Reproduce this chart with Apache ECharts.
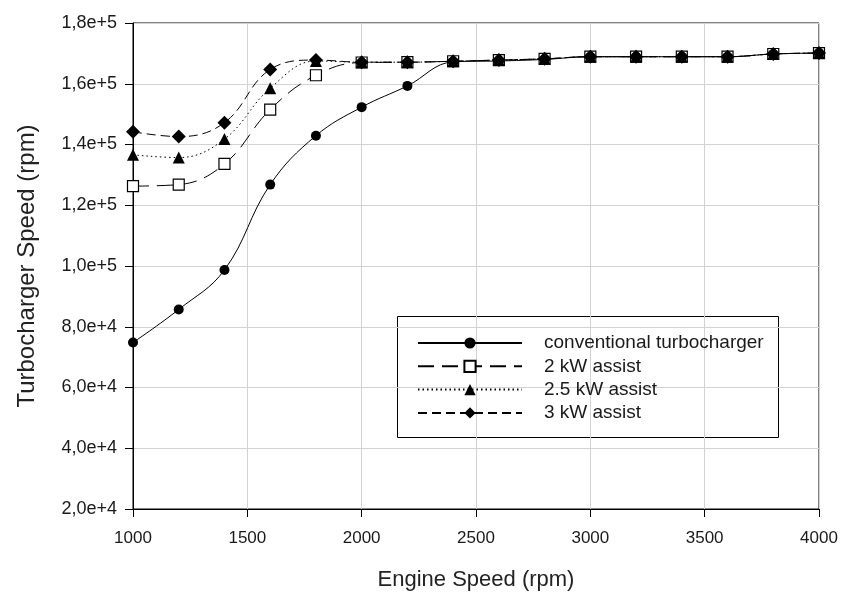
<!DOCTYPE html>
<html>
<head>
<meta charset="utf-8">
<script src="https://cdn.jsdelivr.net/npm/echarts@6/dist/echarts.min.js"></script>
<style>
html,body{margin:0;padding:0;background:#fff;}
#chart{width:841px;height:596px;}
</style>
</head>
<body>
<div id="chart"></div>
<script>
const engineSpeed = [1000,1200,1400,1600,1800,2000,2200,2400,2600,2800,3000,3200,3400,3600,3800,4000];
const conventional = [74800,85700,98700,126800,142900,152300,159300,167200,167500,168000,168900,168900,168900,168900,169800,170100];
const assist2kW    = [126300,126800,133600,151500,162800,167000,167100,167400,167800,168200,168900,168900,168900,168900,169800,170100];
const assist25kW   = [136600,135700,141800,158500,167500,167100,167100,167400,167800,168200,168900,168900,168900,168900,169800,170100];
const assist3kW    = [144200,142600,147200,164700,167800,167100,167100,167400,167800,168200,168900,168900,168900,168900,169800,170100];
const seriesNames = ['conventional turbocharger','2 kW assist','2.5 kW assist','3 kW assist'];
const xTitle = 'Engine Speed (rpm)';
const yTitle = 'Turbocharger Speed (rpm)';

function pairs(arr){ return engineSpeed.map((x,i)=>[x,arr[i]]); }
function fmtSci(v){
  const e = Math.floor(Math.log10(v) + 1e-9);
  const m = (v/Math.pow(10,e)).toFixed(1).replace('.',',');
  return m + 'e+' + e;
}
const FONT = '"Liberation Sans", Arial, sans-serif';
const chart = echarts.init(document.getElementById('chart'), null, {renderer:'canvas'});
const baseLine = {width:1, color:'#000'};
chart.setOption({
  animation:false,
  backgroundColor:'#fff',
  grid:{left:133,right:22,top:23,bottom:80,show:true,borderColor:'#000',borderWidth:1,backgroundColor:'transparent'},
  xAxis:{
    type:'value',min:1000,max:4000,interval:500,
    name:xTitle,nameLocation:'middle',nameGap:60,
    nameTextStyle:{fontFamily:FONT,fontSize:22,color:'#222'},
    axisLine:{show:true,lineStyle:{color:'#000',width:1}},
    axisTick:{show:true,length:8,inside:false,lineStyle:{color:'#000'}},
    axisLabel:{fontFamily:FONT,fontSize:17,color:'#1a1a1a',margin:21,formatter:v=>String(v)},
    splitLine:{show:true,lineStyle:{color:'#d2d2d2',width:1}}
  },
  yAxis:{
    type:'value',min:20000,max:180000,interval:20000,
    name:yTitle,nameLocation:'middle',nameGap:94,
    nameTextStyle:{fontFamily:FONT,fontSize:24,color:'#222'},
    axisLine:{show:true,lineStyle:{color:'#000',width:1}},
    axisTick:{show:true,length:8,inside:false,lineStyle:{color:'#000'}},
    axisLabel:{fontFamily:FONT,fontSize:18,color:'#1a1a1a',margin:16,formatter:fmtSci},
    splitLine:{show:true,lineStyle:{color:'#d2d2d2',width:1}}
  },
  legend:{
    orient:'vertical',left:412,top:328,
    itemWidth:104,itemHeight:14,itemGap:3.3,
    data:seriesNames,
    textStyle:{fontFamily:FONT,fontSize:19,color:'#1a1a1a',lineHeight:20,padding:[0,0,0,17]}
  },
  graphic:[{type:'rect',shape:{x:397.5,y:316.5,width:381,height:121},style:{fill:'#fff',stroke:'#000',lineWidth:1},z:-1,zlevel:0}],
  series:[
    {name:seriesNames[1],type:'line',smooth:0.4,data:pairs(assist2kW),symbol:'rect',symbolSize:11,
     lineStyle:Object.assign({type:[16,8]},baseLine),itemStyle:{color:'#fff',borderColor:'#000',borderWidth:1.2},z:3},
    {name:seriesNames[2],type:'line',smooth:0.4,data:pairs(assist25kW),symbol:'triangle',symbolSize:12,
     lineStyle:Object.assign({type:[1.5,3]},baseLine),itemStyle:{color:'#000'},z:4},
    {name:seriesNames[3],type:'line',smooth:0.4,data:pairs(assist3kW),symbol:'diamond',symbolSize:14,
     lineStyle:Object.assign({type:[9,5]},baseLine),itemStyle:{color:'#000'},z:5},
    {name:seriesNames[0],type:'line',smooth:0.4,data:pairs(conventional),symbol:'circle',symbolSize:10,
     lineStyle:Object.assign({type:'solid'},baseLine),itemStyle:{color:'#000'},z:6}
  ]
});
</script>
</body>
</html>
